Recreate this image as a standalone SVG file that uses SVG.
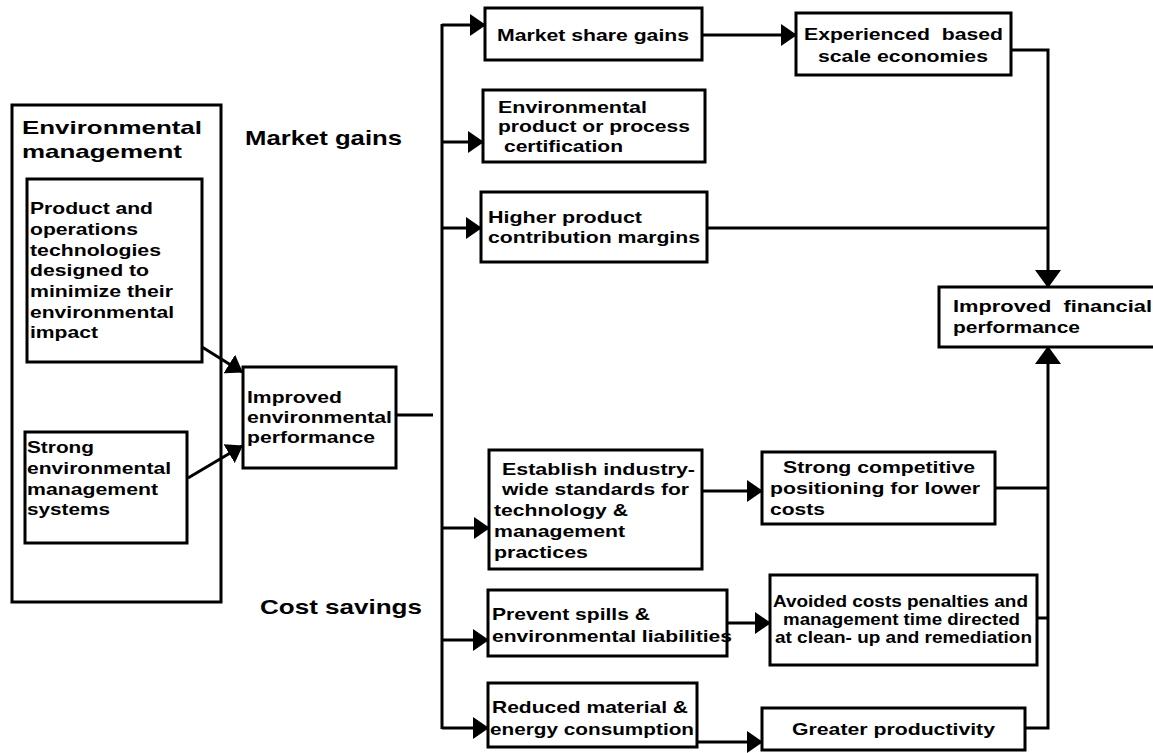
<svg xmlns="http://www.w3.org/2000/svg" width="1153" height="753" viewBox="0 0 1153 753">
<style>
.box{fill:#fff;stroke:#000;stroke-width:3}
.t{font-family:"Liberation Sans",Arial,sans-serif;font-weight:bold;font-size:17px;fill:#000}
.s{font-size:16px}
.h{font-size:21px}
.ti{font-size:19px}
.c{fill:none;stroke:#000;stroke-width:3}
</style>
<defs>
<marker id="ah" viewBox="0 0 16 22" refX="15" refY="11" markerWidth="16" markerHeight="22" markerUnits="userSpaceOnUse" orient="auto"><path d="M0,0 L16,11 L0,22 Z" fill="#000"/></marker>
<marker id="ab" viewBox="0 0 18 26" refX="17" refY="13" markerWidth="18" markerHeight="26" markerUnits="userSpaceOnUse" orient="auto"><path d="M0,0 L18,13 L0,26 Z" fill="#000"/></marker>
</defs>
<rect width="1153" height="753" fill="#fff"/>

<g id="env-mgmt">
<rect class="box" x="12" y="105" width="209" height="497"/>
<text class="t ti" x="22" y="134" textLength="180" lengthAdjust="spacingAndGlyphs">Environmental</text>
<text class="t ti" x="22" y="158" textLength="160" lengthAdjust="spacingAndGlyphs">management</text>
</g>
<g id="product-tech">
<rect class="box" x="27" y="179" width="175" height="183"/>
<text class="t" x="30" y="214" textLength="123" lengthAdjust="spacingAndGlyphs">Product and</text>
<text class="t" x="30" y="235" textLength="108" lengthAdjust="spacingAndGlyphs">operations</text>
<text class="t" x="30" y="256" textLength="131" lengthAdjust="spacingAndGlyphs">technologies</text>
<text class="t" x="30" y="276" textLength="119" lengthAdjust="spacingAndGlyphs">designed to</text>
<text class="t" x="30" y="297" textLength="143" lengthAdjust="spacingAndGlyphs">minimize their</text>
<text class="t" x="30" y="318" textLength="144" lengthAdjust="spacingAndGlyphs">environmental</text>
<text class="t" x="30" y="338" textLength="68" lengthAdjust="spacingAndGlyphs">impact</text>
</g>
<g id="strong-ems">
<rect class="box" x="25" y="432" width="162" height="111"/>
<text class="t" x="27" y="453" textLength="67" lengthAdjust="spacingAndGlyphs">Strong</text>
<text class="t" x="27" y="474" textLength="144" lengthAdjust="spacingAndGlyphs">environmental</text>
<text class="t" x="27" y="495" textLength="131" lengthAdjust="spacingAndGlyphs">management</text>
<text class="t" x="27" y="515" textLength="83" lengthAdjust="spacingAndGlyphs">systems</text>
</g>
<g id="improved-env">
<rect class="box" x="243" y="367" width="153" height="101"/>
<text class="t" x="247" y="403" textLength="95" lengthAdjust="spacingAndGlyphs">Improved</text>
<text class="t" x="247" y="423" textLength="145" lengthAdjust="spacingAndGlyphs">environmental</text>
<text class="t" x="247" y="443" textLength="128" lengthAdjust="spacingAndGlyphs">performance</text>
</g>
<g id="label-market-gains">
<text class="t h" x="245" y="145" textLength="157" lengthAdjust="spacingAndGlyphs">Market gains</text>
</g>
<g id="label-cost-savings">
<text class="t h" x="260" y="614" textLength="162" lengthAdjust="spacingAndGlyphs">Cost savings</text>
</g>
<g id="market-share">
<rect class="box" x="485" y="8" width="217" height="52"/>
<text class="t" x="497" y="41" textLength="192" lengthAdjust="spacingAndGlyphs">Market share gains</text>
</g>
<g id="certification">
<rect class="box" x="483" y="90" width="222" height="72"/>
<text class="t" x="498" y="113" textLength="149" lengthAdjust="spacingAndGlyphs">Environmental</text>
<text class="t" x="498" y="132" textLength="192" lengthAdjust="spacingAndGlyphs">product or process</text>
<text class="t" x="504" y="152" textLength="119" lengthAdjust="spacingAndGlyphs">certification</text>
</g>
<g id="higher-margins">
<rect class="box" x="481" y="192" width="226" height="70"/>
<text class="t" x="488" y="223" textLength="154" lengthAdjust="spacingAndGlyphs">Higher product</text>
<text class="t" x="488" y="243" textLength="212" lengthAdjust="spacingAndGlyphs">contribution margins</text>
</g>
<g id="scale-economies">
<rect class="box" x="796" y="13" width="215" height="62"/>
<text class="t" x="804" y="40" textLength="199" lengthAdjust="spacingAndGlyphs" xml:space="preserve">Experienced  based</text>
<text class="t" x="818" y="62" textLength="170" lengthAdjust="spacingAndGlyphs">scale economies</text>
</g>
<g id="financial">
<rect class="box" x="939" y="287" width="222" height="60"/>
<text class="t" x="953" y="312" textLength="199" lengthAdjust="spacingAndGlyphs" xml:space="preserve">Improved  financial</text>
<text class="t" x="953" y="333" textLength="127" lengthAdjust="spacingAndGlyphs">performance</text>
</g>
<g id="standards">
<rect class="box" x="489" y="450" width="213" height="119"/>
<text class="t" x="502" y="475" textLength="193" lengthAdjust="spacingAndGlyphs">Establish industry-</text>
<text class="t" x="502" y="495" textLength="187" lengthAdjust="spacingAndGlyphs">wide standards for</text>
<text class="t" x="494" y="516" textLength="134" lengthAdjust="spacingAndGlyphs">technology &amp;</text>
<text class="t" x="494" y="537" textLength="131" lengthAdjust="spacingAndGlyphs">management</text>
<text class="t" x="494" y="558" textLength="94" lengthAdjust="spacingAndGlyphs">practices</text>
</g>
<g id="competitive">
<rect class="box" x="762" y="452" width="233" height="72"/>
<text class="t" x="783" y="473" textLength="192" lengthAdjust="spacingAndGlyphs">Strong competitive</text>
<text class="t" x="770" y="494" textLength="210" lengthAdjust="spacingAndGlyphs">positioning for lower</text>
<text class="t" x="770" y="515" textLength="55" lengthAdjust="spacingAndGlyphs">costs</text>
</g>
<g id="spills">
<rect class="box" x="488" y="590" width="239" height="66"/>
<text class="t" x="492" y="620" textLength="158" lengthAdjust="spacingAndGlyphs">Prevent spills &amp;</text>
<text class="t" x="492" y="642" textLength="240" lengthAdjust="spacingAndGlyphs">environmental liabilities</text>
</g>
<g id="avoided-costs">
<rect class="box" x="770" y="575" width="267" height="90"/>
<text class="t s" x="773" y="607" textLength="255" lengthAdjust="spacingAndGlyphs">Avoided costs penalties and</text>
<text class="t s" x="783" y="625" textLength="237" lengthAdjust="spacingAndGlyphs">management time directed</text>
<text class="t s" x="775" y="643" textLength="257" lengthAdjust="spacingAndGlyphs">at clean- up and remediation</text>
</g>
<g id="reduced">
<rect class="box" x="488" y="683" width="209" height="64"/>
<text class="t" x="492" y="713" textLength="196" lengthAdjust="spacingAndGlyphs">Reduced material &amp;</text>
<text class="t" x="490" y="735" textLength="204" lengthAdjust="spacingAndGlyphs">energy consumption</text>
</g>
<g id="productivity">
<rect class="box" x="762" y="708" width="263" height="42"/>
<text class="t" x="792" y="735" textLength="203" lengthAdjust="spacingAndGlyphs">Greater productivity</text>
</g>

<g id="connectors">
<line class="c" x1="202" y1="347" x2="242" y2="372" marker-end="url(#ah)"/>
<line class="c" x1="188" y1="478" x2="242" y2="446" marker-end="url(#ah)"/>
<line class="c" x1="396" y1="415" x2="433" y2="415"/>
<line class="c" x1="442" y1="24" x2="442" y2="729"/>
<line class="c" x1="442" y1="25" x2="485" y2="25" marker-end="url(#ah)"/>
<line class="c" x1="442" y1="142" x2="483" y2="142" marker-end="url(#ah)"/>
<line class="c" x1="442" y1="228" x2="481" y2="228" marker-end="url(#ah)"/>
<line class="c" x1="442" y1="528" x2="489" y2="528" marker-end="url(#ah)"/>
<line class="c" x1="442" y1="640" x2="488" y2="640" marker-end="url(#ah)"/>
<line class="c" x1="442" y1="728" x2="488" y2="728" marker-end="url(#ah)"/>
<line class="c" x1="702" y1="35" x2="796" y2="35" marker-end="url(#ah)"/>
<polyline class="c" points="1011,50 1048,50 1048,287" marker-end="url(#ab)"/>
<line class="c" x1="707" y1="228" x2="1048" y2="228"/>
<line class="c" x1="702" y1="491" x2="762" y2="491" marker-end="url(#ah)"/>
<line class="c" x1="995" y1="488" x2="1048" y2="488"/>
<line class="c" x1="727" y1="623" x2="770" y2="623" marker-end="url(#ah)"/>
<line class="c" x1="1037" y1="618" x2="1048" y2="618"/>
<line class="c" x1="697" y1="742" x2="762" y2="742" marker-end="url(#ah)"/>
<polyline class="c" points="1025,728 1048,728 1048,347" marker-end="url(#ab)"/>
</g>
</svg>
